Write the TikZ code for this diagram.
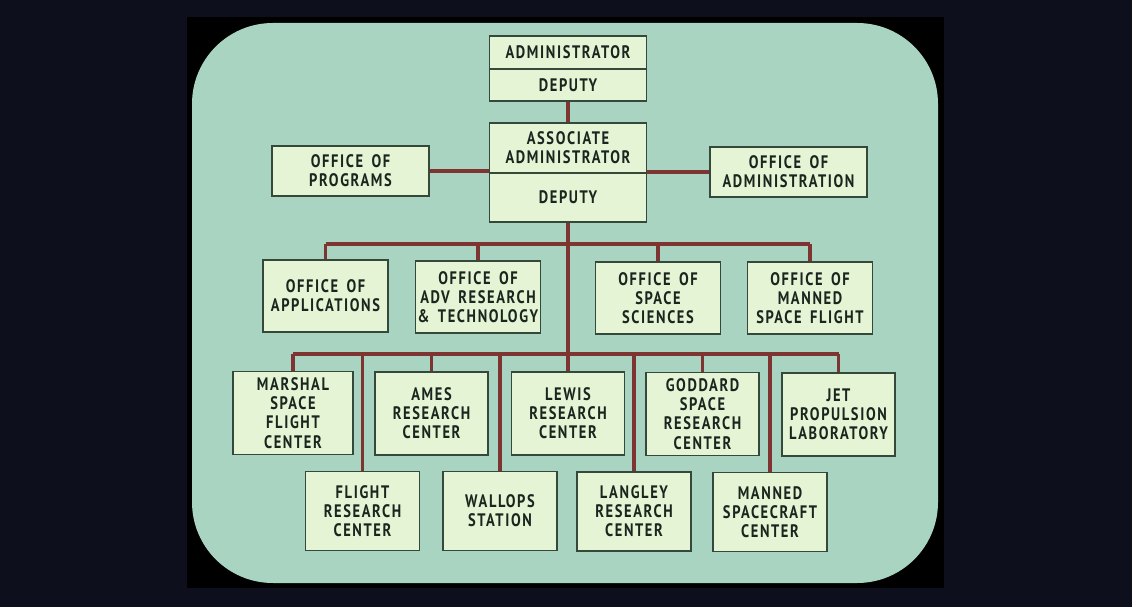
\documentclass[tikz,border=0pt]{standalone}
\usepackage{fontspec}
\newfontfamily\slidefont[FakeStretch=0.8,LetterSpace=9,WordSpace=1.6]{PT Sans}
\usepackage{tikz}

\definecolor{slidebg}{HTML}{0D101C}
\definecolor{slidefill}{HTML}{A8D4C1}
\definecolor{boxfill}{HTML}{E5F4D5}
\definecolor{boxline}{HTML}{34493A}
\definecolor{linkred}{HTML}{7E3430}
\definecolor{inkdark}{HTML}{1A251E}

\begin{document}
\begin{tikzpicture}[x=0.02cm, y=-0.02cm]
        \tikzstyle{box}=[draw=boxline, fill=boxfill, line width=0.9pt,
            inner sep=0pt, align=center, text=inkdark,
            font=\slidefont\bfseries\fontsize{10.3}{10.9}\selectfont]
        \tikzstyle{toprow}=[box, minimum width=3.14cm]
        \tikzstyle{office}=[box, minimum width=2.5cm, minimum height=1.44cm]
        \tikzstyle{center}=[box, minimum width=2.26cm, minimum height=1.66cm]
        \tikzstyle{lower}=[box, minimum width=2.28cm, minimum height=1.58cm]
        \tikzstyle{link}=[draw=linkred, line width=1.8pt]

            % slide frame
            \useasboundingbox (0,0) rectangle (1132,607);
            \fill[slidebg] (0,0) rectangle (1132,607);
            \fill[black] (187,17) rectangle (944,588);
            \fill[slidefill, rounded corners=46] (192,23) rectangle (938,583);

            % top of the chart
            \node[toprow, minimum height=0.66cm] (admin) at (568,52.5)
            {ADMINISTRATOR};
            \node[toprow, minimum height=0.64cm] (dep1) at (568,85)
            {DEPUTY};
            \node[toprow, minimum height=1.0cm] (assoc) at (568,148)
            {ASSOCIATE\\ADMINISTRATOR};
            \node[toprow, minimum height=0.98cm] (dep2) at (568,197.5)
            {DEPUTY};

            \node[toprow, minimum height=1.0cm] (prog) at (350.5,171)
            {OFFICE OF\\PROGRAMS};
            \node[toprow, minimum height=1.0cm] (adm) at (788.5,172)
            {OFFICE OF\\ADMINISTRATION};

            % program offices
            \node[office] (apps) at (325.5,296)
            {OFFICE OF\\APPLICATIONS};
            \node[office] (adv) at (478,297)
            {OFFICE OF\\ADV RESEARCH\\\& TECHNOLOGY};
            \node[office] (space) at (658,298)
            {OFFICE OF\\SPACE\\SCIENCES};
            \node[office] (manned) at (810,298)
            {OFFICE OF\\MANNED\\SPACE FLIGHT};

            % field centers
            \node[center, minimum width=2.4cm] (marshal) at (293,413)
            {MARSHAL\\SPACE\\FLIGHT\\CENTER};
            \node[center] (ames) at (431.5,413.5)
            {AMES\\RESEARCH\\CENTER};
            \node[center] (lewis) at (568,413.5)
            {LEWIS\\RESEARCH\\CENTER};
            \node[center] (goddard) at (702.5,414)
            {GODDARD\\SPACE\\RESEARCH\\CENTER};
            \node[center] (jpl) at (838.5,414.5)
            {JET\\PROPULSION\\LABORATORY};

            \node[lower] (flight) at (362.5,511)
            {FLIGHT\\RESEARCH\\CENTER};
            \node[lower] (wallops) at (500,511)
            {WALLOPS\\STATION};
            \node[lower] (langley) at (634,511.5)
            {LANGLEY\\RESEARCH\\CENTER};
            \node[lower] (msc) at (770,512)
            {MANNED\\SPACECRAFT\\CENTER};

            \coordinate (bus2) at (568,244);
            \coordinate (bus3) at (568,354);

            % connectors
            \draw[link] (dep1) -- (assoc);
            \draw[link] (prog) -- (prog -| assoc.west);
            \draw[link] (adm) -- (adm -| assoc.east);
            \draw[link] (dep2) -- (lewis);

            \draw[link] (apps |- bus2) -- (manned |- bus2);
            \foreach \b in {apps, adv, space, manned}
            {
                \draw[link] (\b) -- (\b |- bus2);
            }

            \draw[link] (marshal |- bus3) -- (jpl |- bus3);
            \foreach \b in {marshal, ames, goddard, jpl,
                flight, wallops, langley, msc}
            {
                \draw[link] (\b) -- (\b |- bus3);
            }
    \end{tikzpicture}
\end{document}
